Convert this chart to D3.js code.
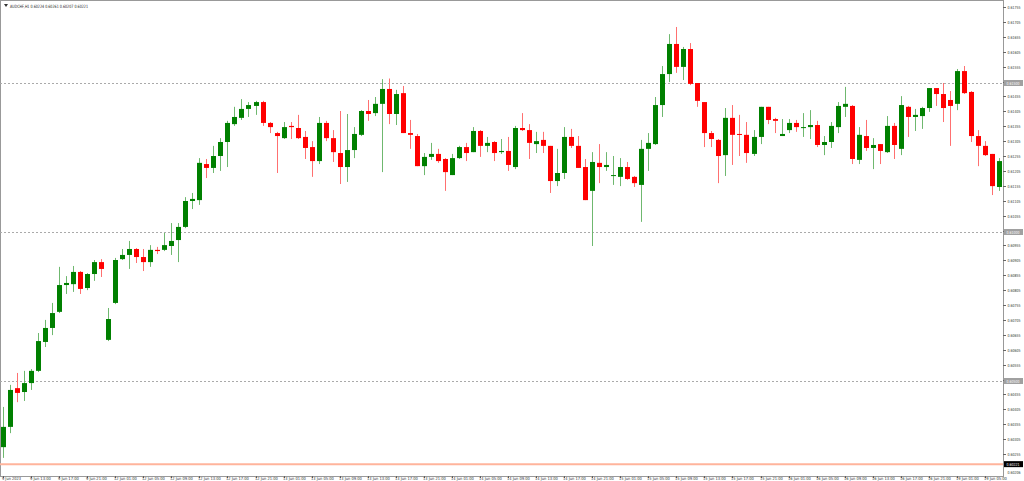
<!DOCTYPE html>
<html><head><meta charset="utf-8">
<script src="https://cdn.jsdelivr.net/npm/d3@7"></script>
<style>body{margin:0;background:#fff}svg{display:block;font-family:"DejaVu Sans",sans-serif}</style>
</head><body><svg id="c" width="1024" height="481"></svg>
<script>
const opens=[.60278,.60346,.60476,.60463,.60493,.60534,.60631,.60678,.60732,.60822,.60825,.60866,.60812,.60859,.60899,.60638,.60762,.60909,.60923,.60943,.60916,.60899,.60940,.60940,.60953,.60973,.61017,.61104,.61107,.61228,.61215,.61255,.61302,.61362,.61383,.61413,.61423,.61436,.61366,.61332,.61315,.61356,.61349,.61319,.61285,.61238,.61366,.61315,.61265,.61218,.61275,.61326,.61406,.61399,.61430,.61480,.61396,.61466,.61332,.61322,.61221,.61252,.61262,.61245,.61191,.61248,.61285,.61268,.61339,.61289,.61302,.61268,.61272,.61218,.61349,.61342,.61295,.61309,.61289,.61171,.61198,.61319,.61289,.61218,.61138,.61232,.61218,.61188,.61185,.61218,.61185,.61158,.61279,.61295,.61426,.61530,.61631,.61554,.61614,.61500,.61436,.61332,.61309,.61258,.61383,.61329,.61326,.61262,.61319,.61420,.61379,.61322,.61342,.61366,.61349,.61352,.61359,.61292,.61302,.61352,.61420,.61423,.61242,.61322,.61282,.61295,.61268,.61356,.61279,.61420,.61386,.61389,.61416,.61483,.61463,.61443,.61430,.61540,.61470,.61322,.61289,.61262,.61151];
const highs=[.60413,.60487,.60527,.60534,.60540,.60661,.60705,.60762,.60883,.60852,.60886,.60869,.60862,.60906,.60909,.60745,.60913,.60943,.60970,.60946,.60943,.60956,.60950,.60997,.61030,.61030,.61117,.61131,.61248,.61245,.61289,.61315,.61373,.61420,.61446,.61436,.61440,.61440,.61369,.61336,.61369,.61369,.61393,.61339,.61305,.61386,.61373,.61342,.61406,.61396,.61352,.61409,.61443,.61453,.61513,.61515,.61477,.61490,.61376,.61329,.61265,.61299,.61279,.61248,.61262,.61289,.61299,.61352,.61342,.61319,.61305,.61312,.61319,.61356,.61399,.61362,.61336,.61336,.61289,.61279,.61352,.61346,.61322,.61245,.61268,.61295,.61268,.61255,.61248,.61235,.61188,.61309,.61332,.61453,.61557,.61664,.61688,.61621,.61634,.61500,.61436,.61339,.61312,.61416,.61426,.61393,.61369,.61342,.61420,.61420,.61383,.61379,.61379,.61376,.61399,.61409,.61373,.61322,.61369,.61436,.61487,.61426,.61352,.61376,.61315,.61295,.61389,.61366,.61456,.61423,.61413,.61420,.61483,.61483,.61500,.61473,.61547,.61557,.61473,.61342,.61305,.61262,.61248];
const lows=[.60242,.60325,.60429,.60433,.60470,.60530,.60614,.60654,.60728,.60792,.60799,.60792,.60805,.60836,.60849,.60634,.60758,.60906,.60876,.60896,.60869,.60883,.60926,.60936,.60923,.60899,.61013,.61077,.61091,.61181,.61198,.61205,.61218,.61356,.61376,.61386,.61393,.61356,.61332,.61198,.61312,.61312,.61312,.61245,.61185,.61228,.61305,.61235,.61161,.61168,.61248,.61322,.61373,.61389,.61201,.61362,.61359,.61332,.61279,.61221,.61191,.61242,.61232,.61138,.61191,.61245,.61238,.61268,.61252,.61268,.61238,.61262,.61205,.61211,.61339,.61245,.61265,.61265,.61131,.61154,.61178,.61282,.61215,.61107,.60953,.61164,.61205,.61158,.61154,.61175,.61151,.61034,.61205,.61292,.61386,.61503,.61534,.61510,.61493,.61420,.61285,.61285,.61164,.61188,.61225,.61255,.61232,.61255,.61295,.61362,.61332,.61322,.61332,.61336,.61319,.61312,.61285,.61258,.61282,.61332,.61386,.61228,.61228,.61272,.61211,.61228,.61265,.61245,.61258,.61319,.61339,.61346,.61403,.61423,.61369,.61289,.61409,.61463,.61302,.61221,.61255,.61124,.61138];
const closes=[.60346,.60470,.60460,.60493,.60534,.60634,.60678,.60728,.60822,.60829,.60866,.60809,.60859,.60899,.60876,.60708,.60906,.60923,.60943,.60916,.60899,.60940,.60936,.60956,.60970,.61017,.61104,.61111,.61232,.61215,.61255,.61302,.61366,.61386,.61413,.61426,.61436,.61366,.61352,.61322,.61352,.61352,.61315,.61282,.61238,.61366,.61315,.61268,.61218,.61275,.61329,.61406,.61396,.61430,.61480,.61396,.61463,.61332,.61326,.61221,.61252,.61262,.61238,.61201,.61248,.61285,.61265,.61339,.61289,.61299,.61265,.61272,.61225,.61349,.61342,.61299,.61305,.61289,.61171,.61198,.61319,.61289,.61215,.61107,.61235,.61218,.61225,.61191,.61218,.61178,.61164,.61279,.61299,.61426,.61530,.61631,.61554,.61614,.61497,.61440,.61332,.61312,.61255,.61383,.61326,.61326,.61265,.61319,.61420,.61376,.61373,.61329,.61366,.61352,.61352,.61359,.61292,.61302,.61356,.61423,.61430,.61245,.61326,.61282,.61292,.61272,.61356,.61292,.61426,.61386,.61393,.61416,.61483,.61463,.61416,.61423,.61540,.61466,.61322,.61289,.61258,.61154,.61238];
const priceTicks=d3.range(0,31).map(k=>+(0.61755-k*0.0005).toFixed(5));
const gridLevels=[0.615,0.61,0.605];
const currentPrice=0.60221, bottomPrice=0.60206;
const timeLabels=["9 Jun 2023","9 Jun 13:00","9 Jun 17:00","9 Jun 21:00","12 Jun 01:00","12 Jun 05:00","12 Jun 09:00","12 Jun 13:00","12 Jun 17:00","12 Jun 21:00","13 Jun 01:00","13 Jun 05:00","13 Jun 09:00","13 Jun 13:00","13 Jun 17:00","13 Jun 21:00","14 Jun 01:00","14 Jun 05:00","14 Jun 09:00","14 Jun 13:00","14 Jun 17:00","14 Jun 21:00","15 Jun 01:00","15 Jun 05:00","15 Jun 09:00","15 Jun 13:00","15 Jun 17:00","15 Jun 21:00","16 Jun 01:00","16 Jun 05:00","16 Jun 09:00","16 Jun 13:00","16 Jun 17:00","16 Jun 21:00","19 Jun 01:00","19 Jun 05:00"];
const title="AUDCHF,H1  0.60224 0.60261 0.60207 0.60221";

const svg=d3.select("#c");
const n=opens.length;
const plotR=1003, plotB=476;
const x=d3.scaleLinear().domain([0,n-1]).range([3,999]);
const y=d3.scaleLinear().domain([0.61,0.615]).range([232,83]);
svg.append("rect").attr("x",0.5).attr("y",0.5).attr("width",plotR).attr("height",plotB).attr("fill","#fff").attr("stroke","#999");
gridLevels.forEach(v=>svg.append("line").attr("x1",0).attr("x2",plotR).attr("y1",Math.round(y(v))+.5).attr("y2",Math.round(y(v))+.5).attr("stroke","#aaa").attr("stroke-dasharray","2,2"));
svg.append("line").attr("x1",0).attr("x2",plotR).attr("y1",y(currentPrice)).attr("y2",y(currentPrice)).attr("stroke","#ffb49c").attr("stroke-width",2);
const g=svg.append("g");
for(let i=0;i<n;i++){
 const up=closes[i]>=opens[i], col=up?"#008000":"#ff0000";
 const cx=Math.round(x(i))+.5;
 g.append("line").attr("x1",cx).attr("x2",cx).attr("y1",y(highs[i])).attr("y2",y(lows[i])).attr("stroke",up?"#6fb86f":"#ff7070").attr("stroke-width",1);
 const t=y(Math.max(opens[i],closes[i])), b=y(Math.min(opens[i],closes[i]));
 g.append("rect").attr("x",cx-2.5).attr("y",t).attr("width",5).attr("height",Math.max(1,b-t)).attr("fill",col);
}
const ax=svg.append("g").attr("font-size",4.2).attr("fill","#333");
function lab(sel,xx,yy,s,len,fill){return sel.append("text").attr("x",xx).attr("y",yy).attr("textLength",len).attr("lengthAdjust","spacingAndGlyphs").attr("fill",fill||"#333").text(s);}
priceTicks.forEach(v=>{const yy=Math.round(y(v))+.5;
 ax.append("line").attr("x1",plotR).attr("x2",plotR+3).attr("y1",yy).attr("y2",yy).attr("stroke","#666");
 lab(ax,1007.5,yy+1.5,v.toFixed(5),13);});
gridLevels.forEach(v=>{const yy=y(v);
 ax.append("rect").attr("x",1004).attr("y",yy-3).attr("width",19).attr("height",6).attr("fill","#a0a0a0");
 lab(ax,1006.5,yy+1.5,v.toFixed(5),13,"#fff");});
ax.append("rect").attr("x",1004).attr("y",y(currentPrice)-3).attr("width",19).attr("height",6).attr("fill","#000");
lab(ax,1006.5,y(currentPrice)+1.5,currentPrice.toFixed(5),13,"#fff");
lab(ax,1007.5,473.5,bottomPrice.toFixed(5),13);
const bx=svg.append("g").attr("font-size",4.2).attr("fill","#333");
timeLabels.forEach((s,k)=>{const xx=Math.round(x(k*4))+.5;
 bx.append("line").attr("x1",xx).attr("x2",xx).attr("y1",plotB).attr("y2",plotB+2).attr("stroke","#666");
 lab(bx,xx-1.5,480,s,s.length*1.9);});
svg.append("path").attr("d","M4,4 L8,4 L6,7 Z").attr("fill","#333");
lab(svg.append("g").attr("font-size",4.5),10,7.5,title,78,"#222");
</script></body></html>
